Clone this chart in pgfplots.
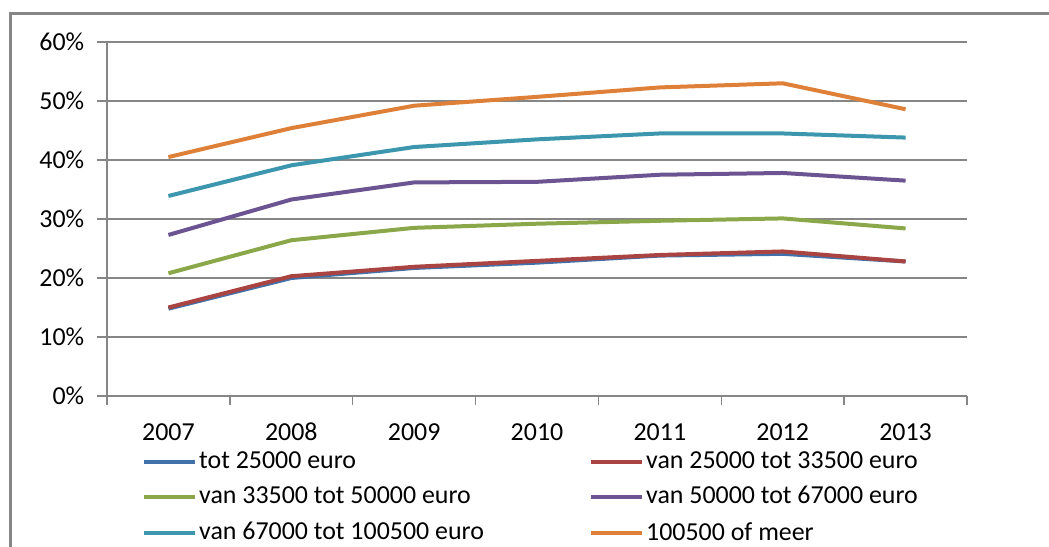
\documentclass[border=0pt]{standalone}
\usepackage{fontspec}
\setmainfont{Carlito}
\usepackage{pgfplots}
\usepackage{pgfplotstable}
\pgfplotsset{compat=1.18}
\definecolor{axgray}{HTML}{868686}
\definecolor{cblue}{HTML}{4170AA}
\definecolor{cred}{HTML}{AA4442}
\definecolor{cgreen}{HTML}{8AA84A}
\definecolor{cpurple}{HTML}{6C5391}
\definecolor{ccyan}{HTML}{3C96AE}
\definecolor{corange}{HTML}{DF8038}
\pgfplotstableread{
x   a     b     c     d     e     f
0.5 14.8  15.0  20.8  27.3  33.9  40.5
1.5 20.0  20.3  26.4  33.3  39.1  45.4
2.5 21.7  21.9  28.5  36.2  42.2  49.2
3.5 22.6  22.9  29.2  36.3  43.5  50.7
4.5 23.8  23.9  29.7  37.5  44.5  52.3
5.5 24.1  24.5  30.1  37.8  44.5  53.0
6.5 22.8  22.8  28.4  36.5  43.8  48.6
}\data
\begin{document}
\fontsize{26}{30}\selectfont
\begin{tikzpicture}
\path[use as bounding box] (0,0) rectangle (1049bp,547bp);
\draw[color=axgray, line width=3bp] (10bp,0) -- (10bp,533bp) -- (1049bp,533bp);
\begin{axis}[
  at={(107bp,151bp)}, anchor=south west,
  scale only axis, width=860bp, height=354bp,
  xmin=0, xmax=7, ymin=0, ymax=60,
  axis x line*=bottom, axis y line*=left,
  axis line style={draw=axgray, line width=1.3bp, -},
  xtick={0.5,1.5,2.5,3.5,4.5,5.5,6.5},
  xticklabels={2007,2008,2009,2010,2011,2012,2013},
  minor xtick={0,1,2,3,4,5,6,7},
  xtick style={draw=none},
  minor x tick style={draw=axgray, line width=1.3bp},
  ytick={0,10,20,30,40,50,60},
  yticklabels={0\%,10\%,20\%,30\%,40\%,50\%,60\%},
  ytick style={draw=axgray, line width=1.3bp},
  tick align=outside,
  major tick length=10bp, minor tick length=9bp,
  ymajorgrids, major grid style={draw=axgray, line width=1.3bp},
  yticklabel style={xshift=-4bp},
  xticklabel style={anchor=north, text height=17bp, text depth=0bp, yshift=-9bp},
  /pgf/number format/assume math mode=true,
  every axis plot/.append style={line width=4bp, mark=none},
  legend columns=2,
  legend cell align=left,
  legend style={at={(0.0407,-0.1497)}, anchor=north west, draw=none, fill=none,
    inner sep=0pt, nodes={inner sep=2bp}, row sep=10.5bp,
    /tikz/every even column/.append style={column sep=4bp}},
  legend image code/.code={\draw[line width=4bp] (0bp,0bp) -- (51bp,0bp);},
]
\addplot[cblue] table[x=x,y=a]{\data};
\addlegendentry{\makebox[384bp][l]{tot 25000 euro}}
\addplot[cred] table[x=x,y=b]{\data};
\addlegendentry{van 25000 tot 33500 euro}
\addplot[cgreen] table[x=x,y=c]{\data};
\addlegendentry{\makebox[384bp][l]{van 33500 tot 50000 euro}}
\addplot[cpurple] table[x=x,y=d]{\data};
\addlegendentry{van 50000 tot 67000 euro}
\addplot[ccyan] table[x=x,y=e]{\data};
\addlegendentry{\makebox[384bp][l]{van 67000 tot 100500 euro}}
\addplot[corange] table[x=x,y=f]{\data};
\addlegendentry{100500 of meer}
\end{axis}
\end{tikzpicture}
\end{document}
